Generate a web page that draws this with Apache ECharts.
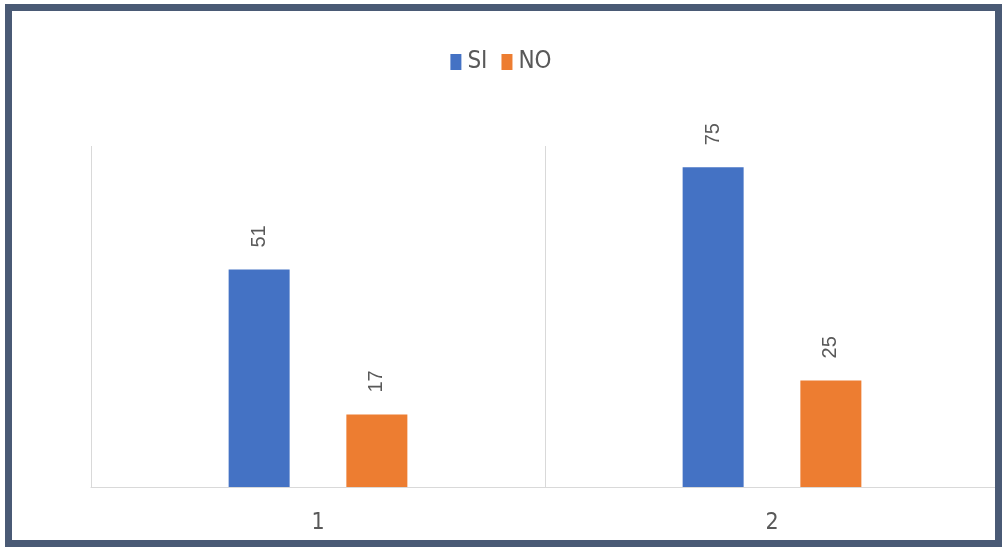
<!DOCTYPE html>
<html>
<head>
<meta charset="utf-8">
<script src="https://cdn.jsdelivr.net/npm/echarts@6/dist/echarts.min.js"></script>
<style>
html,body{margin:0;padding:0;background:#fff;}
#chart{width:1002px;height:547px;}
</style>
</head>
<body>
<div id="chart"></div>
<script>
var categories = ['1', '2'];
var seriesNames = ['SI', 'NO'];
var siValues = [51, 75];
var noValues = [17, 25];

var narrow = 'Liberation Sans Narrow, DejaVu Sans Condensed, Arial Narrow, sans-serif';
var chart = echarts.init(document.getElementById('chart'));
var labelStyle = {
  show: true,
  position: 'top',
  rotate: 90,
  align: 'left',
  verticalAlign: 'middle',
  distance: 22,
  color: '#595959',
  fontSize: 20,
  fontFamily: 'Liberation Sans, Arial, sans-serif'
};
chart.setOption({
  animation: false,
  backgroundColor: '#ffffff',
  legend: {
    data: seriesNames,
    top: 45,
    left: 'center',
    itemWidth: 11,
    itemHeight: 16,
    itemGap: 14,
    icon: 'rect',
    textStyle: {
      color: '#595959',
      fontSize: 24,
      fontFamily: narrow,
      padding: [0, 0, 0, 1]
    }
  },
  grid: { left: 91, right: 3, top: 146, bottom: 60 },
  xAxis: {
    type: 'category',
    data: categories,
    axisLine: { show: true, lineStyle: { color: '#d9d9d9', width: 1 } },
    axisTick: { show: false },
    splitLine: { show: true, lineStyle: { color: '#d9d9d9', width: 1 } },
    axisLabel: {
      color: '#595959',
      fontSize: 23,
      margin: 25,
      fontFamily: narrow
    }
  },
  yAxis: {
    type: 'value',
    min: 0,
    max: 80,
    show: false,
    splitLine: { show: false }
  },
  series: [
    {
      name: seriesNames[0],
      type: 'bar',
      data: siValues,
      barWidth: 61,
      barGap: '93%',
      itemStyle: { color: '#4472c4' },
      label: labelStyle
    },
    {
      name: seriesNames[1],
      type: 'bar',
      data: noValues,
      barWidth: 61,
      barGap: '93%',
      itemStyle: { color: '#ed7d31' },
      label: labelStyle
    }
  ],
  graphic: [{
    type: 'rect',
    z: 100,
    silent: true,
    shape: { x: 8.5, y: 7.5, width: 990, height: 536 },
    style: { fill: 'none', stroke: '#4a5a75', lineWidth: 7 }
  }]
});
</script>
</body>
</html>
